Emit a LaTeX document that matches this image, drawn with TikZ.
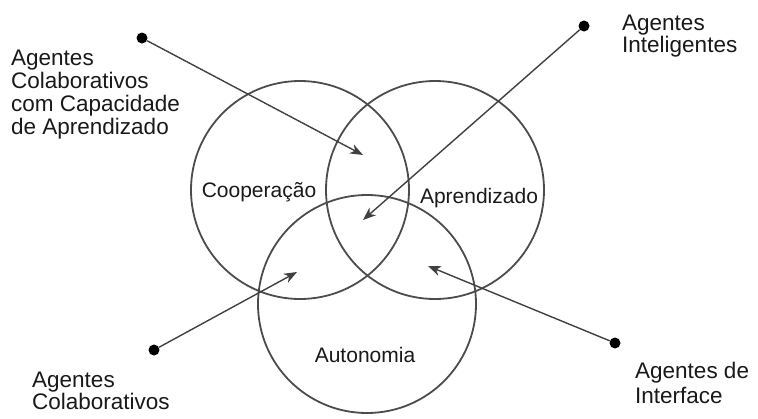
\documentclass[tikz,border=0pt]{standalone}
\usepackage{fontspec}
\setmainfont{Liberation Sans}
\usetikzlibrary{arrows.meta}
\tikzset{
  venn circle/.style={
    draw=black!70,
    line width=1.8pt,
    circle,
    inner sep=0pt,
    minimum size=218pt,
  },
  venn label/.style={
    font=\fontsize{21}{21}\selectfont,
    text=black!90,
    inner sep=0pt,
  },
  agent dot/.style={
    fill=black,
    circle,
    inner sep=0pt,
    minimum size=11pt,
  },
  agent label/.style={
    font=\fontsize{22.5}{#1}\selectfont,
    text=black!90,
    align=left,
    anchor=north west,
    inner sep=0pt,
  },
  agent label/.default=23,
  agent arrow/.style={
    draw=black!75,
    line width=1.4pt,
    -{Stealth[length=13pt,width=10pt,inset=4pt]},
  },
}

\begin{document}
\begin{tikzpicture}[x=1pt,y=-1pt]
  \useasboundingbox (0,0) rectangle (758,418);
  % the three sets
  \node[venn circle] (coop) at (300,190) {};
  \node[venn circle] (apren) at (435,190) {};
  \node[venn circle] (auto) at (367,304) {};
  \node[venn label] (coopl) at (259,192) {Cooperação};
  \node[venn label] (aprenl) at (479,198) {Aprendizado};
  \node[venn label] (autol) at (365,355) {Autonomia};
  % agent types
  \node[agent dot] (d1) at (142,38) {};
  \node[agent dot] (d2) at (584,26) {};
  \node[agent dot] (d3) at (154,350) {};
  \node[agent dot] (d4) at (615,343) {};
  \node[agent label] (l1) at (11,50)
    {Agentes\\Colaborativos\\com Capacidade\\de Aprendizado};
  \node[agent label=20] (l2) at (622,15) {Agentes\\Inteligentes};
  \node[agent label=22] (l3) at (32,372) {Agentes\\Colaborativos};
  \node[agent label=25] (l4) at (635,362) {Agentes de\\Interface};
  % arrow ends
  \coordinate (t1) at (363,155);
  \coordinate (t2) at (363,220);
  \coordinate (t3) at (297,272);
  \coordinate (t4) at (428,266);
  \draw[agent arrow] (d1) -- (t1);
  \draw[agent arrow] (d2) -- (t2);
  \draw[agent arrow] (d3) -- (t3);
  \draw[agent arrow] (d4) -- (t4);
\end{tikzpicture}
\end{document}
